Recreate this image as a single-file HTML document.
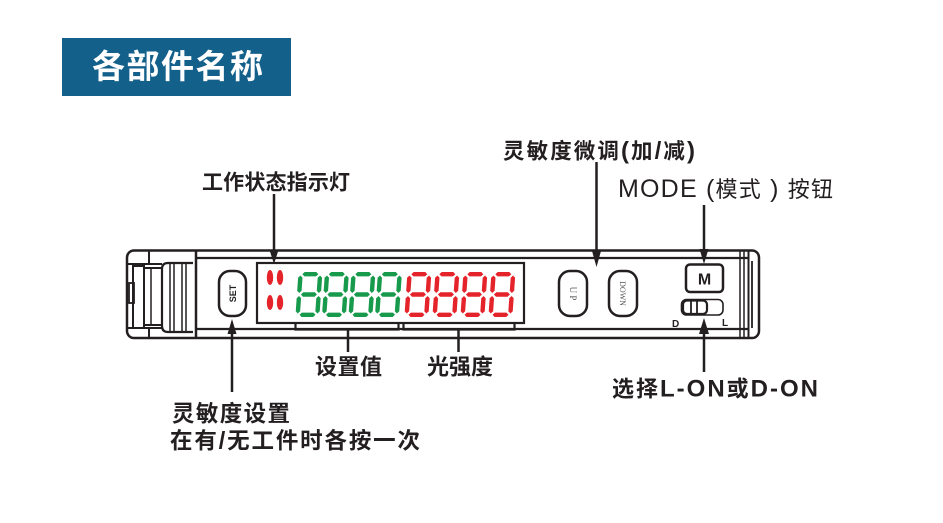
<!DOCTYPE html>
<html>
<head>
<meta charset="utf-8">
<style>
  html,body{margin:0;padding:0;background:#fff;}
  svg{display:block;}
  .t{font-family:"Liberation Sans","Noto Sans CJK SC",sans-serif;fill:#231f20;}
</style>
</head>
<body>
<svg width="943" height="523" viewBox="0 0 943 523" xmlns="http://www.w3.org/2000/svg">
  <defs>
    <g id="dig">
      <polygon points="4,2.2 6.2,0 17.8,0 20,2.2 17.8,4.4 6.2,4.4"/>
      <polygon points="4,22.5 6.2,20.3 17.8,20.3 20,22.5 17.8,24.7 6.2,24.7"/>
      <polygon points="4,42.8 6.2,40.6 17.8,40.6 20,42.8 17.8,45 6.2,45"/>
      <polygon points="2.2,3.5 4.4,5.7 4.4,18.8 2.2,21 0,18.8 0,5.7"/>
      <polygon points="21.8,3.5 24,5.7 24,18.8 21.8,21 19.6,18.8 19.6,5.7"/>
      <polygon points="2.2,24 4.4,26.2 4.4,39.3 2.2,41.5 0,39.3 0,26.2"/>
      <polygon points="21.8,24 24,26.2 24,39.3 21.8,41.5 19.6,39.3 19.6,26.2"/>
    </g>
  </defs>

  <!-- Header -->
  <rect x="62" y="38" width="229" height="58" fill="#13608b"/>
  <text x="92" y="78" class="t" style="fill:#fff;font-weight:bold;font-size:33px" textLength="171" lengthAdjust="spacing">各部件名称</text>

  <!-- Device body -->
  <g fill="none" stroke="#231f20" stroke-width="2.5">
    <rect x="127" y="250.5" width="632" height="87.5" rx="7"/>
    <line x1="196" y1="258" x2="749" y2="258" stroke-width="2.2"/>
    <line x1="196" y1="329" x2="749" y2="329" stroke-width="2.2"/>
    <line x1="196" y1="250" x2="196" y2="338"/>
    <!-- left connector part -->
    <line x1="149" y1="250" x2="149" y2="264" stroke-width="2"/>
    <line x1="149" y1="328" x2="149" y2="338" stroke-width="2"/>
    <line x1="128" y1="264" x2="162" y2="264" stroke-width="2"/>
    <line x1="128" y1="328" x2="162" y2="328" stroke-width="2"/>
    <rect x="133" y="266" width="11" height="62" stroke-width="2"/>
    <rect x="129" y="283" width="5" height="20" stroke-width="1.8"/>
    <rect x="144" y="268" width="18" height="57" stroke-width="2"/>
    <line x1="151" y1="269" x2="151" y2="324" stroke-width="1.5"/>
    <path d="M193,263 L168,263 Q162,263 162,269 L162,326 Q162,332 168,332 L193,332" stroke-width="2.2"/>
    <line x1="170" y1="264" x2="170" y2="331" stroke-width="1.5"/>
    <line x1="174" y1="264" x2="174" y2="331" stroke-width="1.5"/>
    <line x1="182" y1="264" x2="182" y2="331" stroke-width="1.5"/>
    <line x1="186" y1="264" x2="186" y2="331" stroke-width="1.5"/>
    <!-- right end -->
    <line x1="740" y1="251" x2="740" y2="337" stroke-width="1.5"/>
    <line x1="744" y1="251" x2="744" y2="337" stroke-width="1.5"/>
    <line x1="748.5" y1="251" x2="748.5" y2="337" stroke-width="2"/>
    <line x1="752" y1="261" x2="752" y2="328" stroke-width="1.8"/>

    <!-- display -->
    <rect x="257" y="263" width="267" height="60" stroke-width="2.2"/>

    <!-- SET button -->
    <rect x="219" y="271" width="27" height="45" rx="11"/>
    <!-- UP / DOWN -->
    <rect x="559" y="271" width="28" height="45" rx="11"/>
    <rect x="609" y="271" width="28" height="45" rx="11"/>
    <!-- M button -->
    <rect x="686" y="264.5" width="37" height="27.5" rx="4"/>
    <!-- slider -->
    <rect x="681.5" y="299.5" width="41.5" height="15.5" rx="5" stroke-width="1.6"/>
    <rect x="683" y="300.5" width="24" height="13.5" rx="4" stroke-width="2.2"/>
    <line x1="691" y1="301" x2="691" y2="313" stroke-width="1.8"/>
    <line x1="697" y1="301" x2="697" y2="313" stroke-width="1.8"/>

    <!-- brackets -->
    <polyline points="295.5,322 295.5,329.5 398.5,329.5 398.5,322" stroke-width="2.2"/>
    <polyline points="403.5,322 403.5,329.5 514.5,329.5 514.5,322" stroke-width="2.2"/>
    <line x1="348" y1="329" x2="348" y2="352"/>
    <line x1="458.5" y1="329" x2="458.5" y2="352"/>

    <!-- arrows lines -->
    <line x1="274" y1="194" x2="274" y2="252"/>
    <line x1="596.5" y1="162" x2="596.5" y2="253"/>
    <line x1="704" y1="205" x2="704" y2="251"/>
    <line x1="232" y1="332" x2="232" y2="392"/>
    <line x1="704" y1="331" x2="704" y2="372"/>
  </g>

  <!-- arrowheads -->
  <g fill="#231f20">
    <polygon points="269.5,250 278.5,250 274,264"/>
    <polygon points="592,251 601,251 596.5,267"/>
    <polygon points="699.5,249 708.5,249 704,264"/>
    <polygon points="227.5,334 236.5,334 232,319"/>
    <polygon points="699,334 709,334 704,318"/>
  </g>

  <!-- indicator LEDs -->
  <g fill="#e5232a">
    <ellipse cx="270" cy="277.5" rx="3.2" ry="7.5"/>
    <ellipse cx="280" cy="277.5" rx="3.2" ry="7.5"/>
    <ellipse cx="270" cy="302.5" rx="3.2" ry="7.5"/>
    <ellipse cx="280" cy="302.5" rx="3.2" ry="7.5"/>
  </g>

  <!-- green digits -->
  <g fill="#179a4b">
    <use href="#dig" transform="translate(298.5,272) skewX(-4)"/>
    <use href="#dig" transform="translate(325,272) skewX(-4)"/>
    <use href="#dig" transform="translate(351.5,272) skewX(-4)"/>
    <use href="#dig" transform="translate(378,272) skewX(-4)"/>
  </g>
  <!-- red digits -->
  <g fill="#e5232a">
    <use href="#dig" transform="translate(407.5,272) skewX(-4)"/>
    <use href="#dig" transform="translate(435.5,272) skewX(-4)"/>
    <use href="#dig" transform="translate(463.5,272) skewX(-4)"/>
    <use href="#dig" transform="translate(491.5,272) skewX(-4)"/>
  </g>

  <!-- button labels -->
  <text class="t" transform="translate(236,293.5) rotate(-90)" text-anchor="middle" style="font-size:9px;font-weight:bold">SET</text>
  <text transform="translate(570,293.5) rotate(90)" text-anchor="middle" style="font-family:'Liberation Serif',serif;font-size:9px;fill:#555">U P</text>
  <text transform="translate(620,293.5) rotate(90)" text-anchor="middle" style="font-family:'Liberation Serif',serif;font-size:8px;fill:#555">DOWN</text>
  <text class="t" x="704.5" y="284.5" text-anchor="middle" style="font-size:16px;font-weight:bold">M</text>
  <text class="t" x="672" y="327" style="font-size:10px;font-weight:bold">D</text>
  <text class="t" x="722" y="326" style="font-size:10px;font-weight:bold">L</text>

  <!-- labels -->
  <text class="t" x="202" y="189.5" style="font-size:21px;font-weight:bold" textLength="148" lengthAdjust="spacing">工作状态指示灯</text>
  <text class="t" x="503" y="158.5" style="font-size:21.5px;font-weight:bold" textLength="192" lengthAdjust="spacing">灵敏度微调<tspan style="font-size:24px">(</tspan>加<tspan style="font-size:24px">/</tspan>减<tspan style="font-size:24px">)</tspan></text>
  <text class="t" x="618" y="197" style="font-size:22px" textLength="215" lengthAdjust="spacing"><tspan style="font-size:25px">MODE (</tspan>模式<tspan style="font-size:25px"> ) </tspan>按钮</text>
  <text class="t" x="315" y="374.5" style="font-size:22px;font-weight:bold" textLength="67" lengthAdjust="spacing">设置值</text>
  <text class="t" x="427" y="374.5" style="font-size:22px;font-weight:bold" textLength="66" lengthAdjust="spacing">光强度</text>
  <text class="t" x="612" y="396.5" style="font-size:22px;font-weight:bold" textLength="206" lengthAdjust="spacing">选择<tspan style="font-size:24px">L-ON</tspan>或<tspan style="font-size:24px">D-ON</tspan></text>
  <text class="t" x="172" y="421.5" style="font-size:22.5px;font-weight:bold" textLength="118" lengthAdjust="spacing">灵敏度设置</text>
  <text class="t" x="170" y="448.5" style="font-size:22.5px;font-weight:bold" textLength="250" lengthAdjust="spacing">在有<tspan style="font-size:24px">/</tspan>无工件时各按一次</text>
</svg>
</body>
</html>
